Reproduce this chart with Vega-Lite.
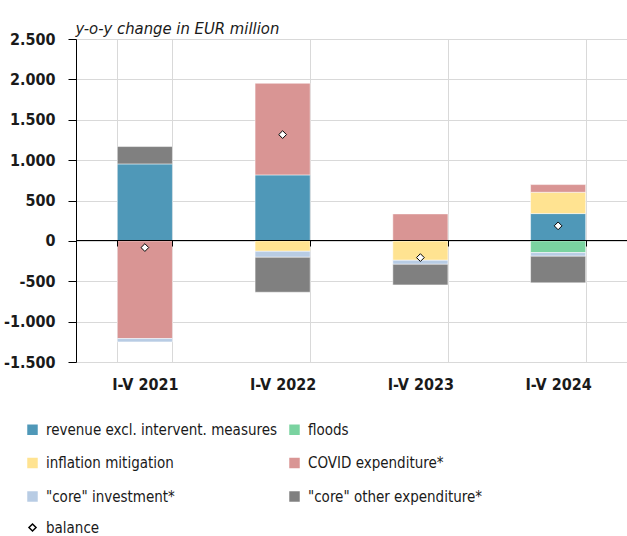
{
  "$schema": "https://vega.github.io/schema/vega-lite/v6.json",
  "width": 551,
  "height": 323,
  "autosize": {"type": "none"},
  "padding": {"left": 76, "top": 39, "right": 0, "bottom": 174},
  "background": "white",
  "config": {"view": {"stroke": null}, "font": "DejaVu Sans Condensed, Liberation Sans Narrow, Lato, sans-serif"},
  "datasets": {
    "components": [
      {"period": "I-V 2021", "component": "revenue excl. intervent. measures", "value": 953, "ord": 0},
      {"period": "I-V 2021", "component": "COVID expenditure*", "value": -1210, "ord": 3},
      {"period": "I-V 2021", "component": "\"core\" investment*", "value": -41, "ord": 4},
      {"period": "I-V 2021", "component": "\"core\" other expenditure*", "value": 215, "ord": 5},
      {"period": "I-V 2022", "component": "revenue excl. intervent. measures", "value": 817, "ord": 0},
      {"period": "I-V 2022", "component": "inflation mitigation", "value": -129, "ord": 2},
      {"period": "I-V 2022", "component": "COVID expenditure*", "value": 1135, "ord": 3},
      {"period": "I-V 2022", "component": "\"core\" investment*", "value": -74, "ord": 4},
      {"period": "I-V 2022", "component": "\"core\" other expenditure*", "value": -433, "ord": 5},
      {"period": "I-V 2023", "component": "inflation mitigation", "value": -240, "ord": 2},
      {"period": "I-V 2023", "component": "COVID expenditure*", "value": 334, "ord": 3},
      {"period": "I-V 2023", "component": "\"core\" investment*", "value": -50, "ord": 4},
      {"period": "I-V 2023", "component": "\"core\" other expenditure*", "value": -255, "ord": 5},
      {"period": "I-V 2024", "component": "revenue excl. intervent. measures", "value": 338, "ord": 0},
      {"period": "I-V 2024", "component": "floods", "value": -145, "ord": 1},
      {"period": "I-V 2024", "component": "inflation mitigation", "value": 264, "ord": 2},
      {"period": "I-V 2024", "component": "COVID expenditure*", "value": 95, "ord": 3},
      {"period": "I-V 2024", "component": "\"core\" investment*", "value": -45, "ord": 4},
      {"period": "I-V 2024", "component": "\"core\" other expenditure*", "value": -330, "ord": 5}
    ],
    "balance": [
      {"period": "I-V 2021", "label": "balance", "value": -83},
      {"period": "I-V 2022", "label": "balance", "value": 1316},
      {"period": "I-V 2023", "label": "balance", "value": -207},
      {"period": "I-V 2024", "label": "balance", "value": 186}
    ]
  },
  "layer": [
    {
      "data": {"name": "components"},
      "mark": {"type": "bar", "stroke": "white", "strokeWidth": 0.5},
      "encoding": {
        "x": {
          "field": "period", "type": "nominal", "sort": null,
          "scale": {"paddingInner": 0.6, "paddingOuter": 0.3},
          "axis": {
            "orient": "bottom", "title": null, "domain": false, "ticks": false,
            "grid": true, "gridColor": "#D9D9D9", "gridWidth": 1, "tickBand": "extent",
            "labelAngle": 0, "labelFontSize": 16, "labelFontWeight": "bold",
            "labelColor": "#1a1a1a", "labelPadding": 14
          }
        },
        "y": {
          "field": "value", "type": "quantitative", "stack": "zero",
          "scale": {"domain": [-1500, 2500], "nice": false},
          "axis": {
            "values": [-1500, -1000, -500, 0, 500, 1000, 1500, 2000, 2500],
            "labelExpr": "replace(replace(format(datum.value, ','), ',', '.'), '−', '-')",
            "grid": true, "gridColor": "#D9D9D9", "gridWidth": 1,
            "domain": true, "domainColor": "black", "domainWidth": 1,
            "ticks": true, "tickColor": "black", "tickSize": 8,
            "labelFontSize": 16, "labelFontWeight": "bold", "labelColor": "#1a1a1a", "labelPadding": 13,
            "title": "y-o-y change in EUR million", "titleAngle": 0, "titleAlign": "left",
            "titleBaseline": "alphabetic", "titleX": -1, "titleY": -6,
            "titleFontSize": 16.5, "titleFontStyle": "italic", "titleFontWeight": "normal", "titleColor": "#1a1a1a"
          }
        },
        "color": {
          "field": "component", "type": "nominal",
          "scale": {
            "domain": ["revenue excl. intervent. measures", "inflation mitigation", "\"core\" investment*", "floods", "COVID expenditure*", "\"core\" other expenditure*"],
            "range": ["#4F98B8", "#FFE391", "#B8CCE4", "#7AD3A0", "#D99594", "#808080"]
          },
          "legend": {
            "orient": "none", "legendX": -51, "legendY": 383, "columns": 2,
            "title": null, "symbolType": "square", "symbolSize": 110, "symbolStrokeWidth": 0,
            "labelFontSize": 15, "labelColor": "#1a1a1a", "labelLimit": 300,
            "columnPadding": 9, "rowPadding": 17.5, "labelOffset": 6
          }
        },
        "order": {"field": "ord", "type": "quantitative"}
      }
    },
    {
      "data": {"name": "balance"},
      "mark": {"type": "point", "filled": true, "fill": "white", "stroke": "black", "strokeWidth": 1, "size": 60, "opacity": 1},
      "encoding": {
        "x": {
          "field": "period", "type": "nominal", "sort": null,
          "axis": {
            "orient": "bottom", "offset": -122, "title": null, "labels": false,
            "domain": true, "domainColor": "black", "domainWidth": 1,
            "ticks": true, "tickColor": "black", "tickSize": 6, "tickBand": "extent",
            "grid": false, "zindex": 1
          }
        },
        "y": {"field": "value", "type": "quantitative"},
        "shape": {
          "field": "label", "type": "nominal",
          "scale": {"range": ["diamond"]},
          "legend": {
            "orient": "none", "legendX": -51, "legendY": 481, "title": null,
            "symbolSize": 50,
            "labelFontSize": 15, "labelColor": "#1a1a1a", "labelOffset": 6,
            "encode": {"symbols": {"update": {"fill": {"value": "white"}, "stroke": {"value": "black"}, "strokeWidth": {"value": 1}, "opacity": {"value": 1}}}}
          }
        }
      }
    }
  ],
  "resolve": {"axis": {"x": "independent"}}
}
